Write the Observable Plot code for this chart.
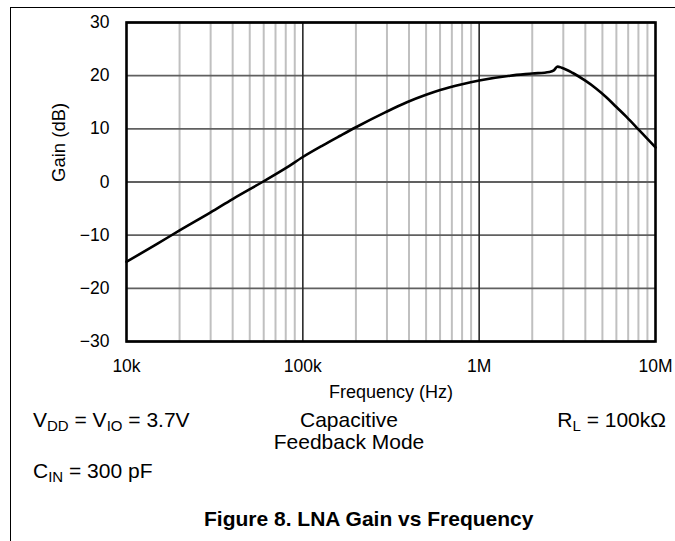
<!DOCTYPE html>
<html>
<head>
<meta charset="utf-8">
<script src="https://cdn.jsdelivr.net/npm/d3@7"></script>
<script src="https://cdn.jsdelivr.net/npm/@observablehq/plot@0.6"></script>
<style>
  html, body { margin: 0; padding: 0; background: #fff; }
  #wrap { position: relative; width: 675px; height: 541px; overflow: hidden; font-family: "Liberation Sans", Arial, sans-serif; color: #000; }
  #pageframe { position: absolute; left: 10px; top: 7px; right: -5px; bottom: -5px; border-top: 1.3px solid #000; border-left: 1.3px solid #000; }
  #chart { position: absolute; left: 0; top: 0; }
  .ann { position: absolute; font-size: 21px; line-height: 22px; white-space: nowrap; }
  .sub { font-size: 15px; position: relative; top: 4px; }
  #title { position: absolute; font-size: 21px; font-weight: bold; white-space: nowrap; line-height: 21px; }
</style>
</head>
<body>
<div id="wrap">
  <div id="pageframe"></div>
  <div id="chart"></div>
  <div class="ann" style="left:33px; top:409px;">V<span class="sub">DD</span> = V<span class="sub">IO</span> = 3.7V</div>
  <div class="ann" style="left:249px; width:200px; top:409px; text-align:center;">Capacitive<br>Feedback Mode</div>
  <div class="ann" style="right:9px; top:409px;">R<span class="sub">L</span> = 100kΩ</div>
  <div class="ann" style="left:33px; top:460px;">C<span class="sub">IN</span> = 300 pF</div>
  <div id="title" style="left:204px; top:508px;">Figure 8. LNA Gain vs Frequency</div>
</div>
<script>
// Curve (frequency in Hz, gain in dB)
const freq = [10000, 15000, 20000, 30000, 40000, 59000, 80000, 100000, 130000, 163000, 200000, 293000, 389000, 500000, 601000, 800000, 1000000, 1500000, 2000000, 2500000, 2650000, 2780000, 2940000, 3400000, 3980000, 4600000, 5280000, 6000000, 6870000, 8000000, 9000000, 10000000];
const gain = [-15.0, -11.6, -9.1, -5.7, -3.2, 0.0, 2.6, 4.7, 6.9, 8.7, 10.3, 13.1, 15.0, 16.4, 17.3, 18.4, 19.1, 20.0, 20.4, 20.7, 21.0, 21.7, 21.5, 20.5, 19.1, 17.6, 15.9, 14.1, 12.2, 9.9, 8.1, 6.5];

// Axes
const xTicks = [10000, 100000, 1000000, 10000000];
const xTickLabels = ["10k", "100k", "1M", "10M"];
const yTicks = [-30, -20, -10, 0, 10, 20, 30];
const yTickLabels = ["\u221230", "\u221220", "\u221210", "0", "10", "20", "30"];
const decades = [10000, 100000, 1000000];
const minorMultipliers = [2, 3, 4, 5, 6, 7, 8, 9];
const majorX = [100000, 1000000];

const data = freq.map((f, i) => ({f, g: gain[i]}));
const minorX = decades.flatMap(d => minorMultipliers.map(m => d * m));
const xLab = new Map(xTicks.map((t, i) => [t, xTickLabels[i]]));
const yLab = new Map(yTicks.map((t, i) => [t, yTickLabels[i]]));

const chart = Plot.plot({
  width: 675,
  height: 410,
  marginLeft: 126,
  marginRight: 20,
  marginTop: 22,
  marginBottom: 69,
  style: {fontFamily: "'Liberation Sans', Arial, sans-serif", fontSize: "17.5px", color: "#000", background: "transparent", overflow: "visible"},
  x: {type: "log", domain: [10000, 10000000]},
  y: {domain: [-30, 30]},
  marks: [
    Plot.ruleX(minorX, {stroke: "#c0c0c0", strokeWidth: 2}),
    Plot.ruleY(yTicks, {stroke: "#606060", strokeWidth: 1.8}),
    Plot.ruleX(majorX, {stroke: "#2a2a2a", strokeWidth: 1.6}),
    Plot.line(data, {x: "f", y: "g", stroke: "#000", strokeWidth: 2.6, curve: "monotone-x"}),
    Plot.frame({stroke: "#000", strokeWidth: 2.6}),
    Plot.axisX({ticks: xTicks, tickFormat: d => xLab.get(d), tickSize: 0, tickPadding: 18, label: null, fontSize: 17.5}),
    Plot.axisY({ticks: yTicks, tickFormat: d => yLab.get(d), tickSize: 0, tickPadding: 17, label: null, fontSize: 17.5}),
    Plot.text(["Frequency (Hz)"], {frameAnchor: "bottom", lineAnchor: "top", dy: 44, fontSize: 18, fill: "#000"}),
    Plot.text(["Gain (dB)"], {frameAnchor: "left", rotate: -90, dx: -67, fontSize: 18.5, fill: "#000"})
  ]
});
document.getElementById("chart").appendChild(chart);
</script>
</body>
</html>
